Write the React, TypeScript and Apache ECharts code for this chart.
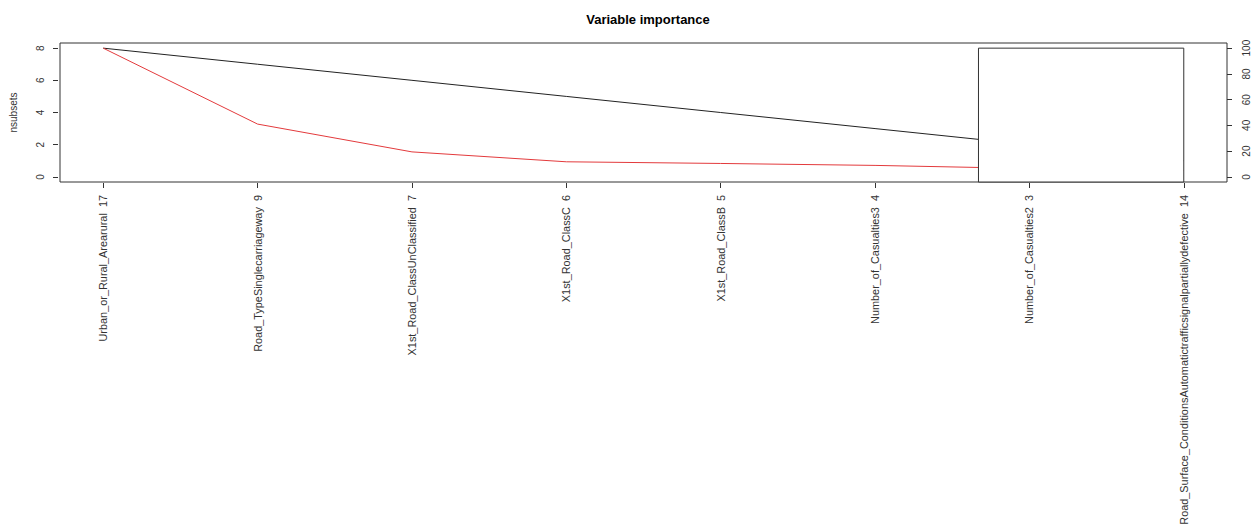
import React, { useEffect, useRef } from "react";
import * as echarts from "echarts";

const categories = [
  "Urban_or_Rural_Arearural  17",
  "Road_TypeSinglecarriageway  9",
  "X1st_Road_ClassUnClassified  7",
  "X1st_Road_ClassC  6",
  "X1st_Road_ClassB  5",
  "Number_of_Casualties3  4",
  "Number_of_Casualties2  3",
  "Road_Surface_ConditionsAutomatictrafficsignalpartiallydefective  14",
];
const positions = [1, 2, 3, 4, 5, 6, 7, 8];
const nsubsets = [8, 7, 6, 5, 4, 3, 2, 1];
const gcv = [100, 41, 19.4, 11.7, 10.4, 8.9, 6.5, 5];
const leftTicks = [0, 2, 4, 6, 8];
const rightTicks = [0, 20, 40, 60, 80, 100];
// legend box (empty) drawn by the original plot: [xStart, xEnd, yTop]
const legendBox = [6.67, 8, 8];

const FONT = "Liberation Sans, Arial, sans-serif";
const INK = "#333";

export default function App() {
  const ref = useRef<HTMLDivElement>(null);
  useEffect(() => {
    const chart = echarts.init(ref.current!, null, { renderer: "svg" });
    const yMin = -0.32;
    const yMax = 8.32;
    chart.setOption({
      animation: false,
      backgroundColor: "#fff",
      title: {
        text: "Variable importance",
        left: 643,
        top: 8,
        textAlign: "center",
        textStyle: { fontFamily: FONT, fontSize: 13, fontWeight: "bold", color: "#000" },
      },
      grid: {
        left: 60,
        right: 30,
        top: 43,
        bottom: 350,
        show: true,
        borderColor: INK,
        borderWidth: 1,
        backgroundColor: "transparent",
      },
      xAxis: {
        type: "value",
        min: 0.72,
        max: 8.28,
        offset: 1,
        splitLine: { show: false },
        axisLine: { show: false, onZero: false },
        axisTick: { show: true, length: 5, customValues: positions, lineStyle: { color: INK } },
        axisLabel: {
          customValues: positions,
          rotate: 90,
          margin: 12,
          fontFamily: FONT,
          fontSize: 10.9,
          color: INK,
          formatter: (v: number) => categories[Math.round(v) - 1] ?? "",
        },
      },
      yAxis: [
        {
          type: "value",
          min: yMin,
          max: yMax,
          position: "left",
          offset: 2,
          name: "nsubsets",
          nameLocation: "middle",
          nameRotate: 90,
          nameGap: 40,
          nameTextStyle: { fontFamily: FONT, fontSize: 10, color: INK },
          splitLine: { show: false },
          axisLine: { show: false, onZero: false },
          axisTick: { show: true, length: 5, customValues: leftTicks, lineStyle: { color: INK } },
          axisLabel: {
            customValues: leftTicks,
            rotate: 90,
            margin: 13,
            fontFamily: FONT,
            fontSize: 10,
            color: INK,
          },
        },
        {
          type: "value",
          min: yMin * 12.5,
          max: yMax * 12.5,
          position: "right",
          offset: 0,
          splitLine: { show: false },
          axisLine: { show: false, onZero: false },
          axisTick: { show: true, length: 5, customValues: rightTicks, lineStyle: { color: INK } },
          axisLabel: {
            customValues: rightTicks,
            rotate: 90,
            margin: 14,
            fontFamily: FONT,
            fontSize: 10,
            color: INK,
          },
        },
      ],
      series: [
        {
          type: "line",
          yAxisIndex: 0,
          data: positions.map((p, i) => [p, nsubsets[i]]),
          showSymbol: false,
          symbol: "none",
          lineStyle: { color: "#222", width: 1 },
          z: 2,
        },
        {
          type: "line",
          yAxisIndex: 1,
          data: positions.map((p, i) => [p, gcv[i]]),
          showSymbol: false,
          symbol: "none",
          lineStyle: { color: "#e33a3c", width: 1 },
          z: 2,
        },
        {
          type: "custom",
          yAxisIndex: 0,
          z: 5,
          data: [legendBox],
          renderItem: (params: any, api: any) => {
            const p0 = api.coord([api.value(0), api.value(2)]);
            const p1 = api.coord([api.value(1), yMin]);
            return {
              type: "rect",
              shape: { x: p0[0], y: p0[1], width: p1[0] - p0[0], height: p1[1] - p0[1] },
              style: { fill: "#fff", stroke: INK, lineWidth: 1 },
            };
          },
        },
      ],
    });
    return () => chart.dispose();
  }, []);
  return (
    <div
      ref={ref}
      style={{ position: "fixed", left: 0, top: 0, width: 1257, height: 532 }}
    />
  );
}
